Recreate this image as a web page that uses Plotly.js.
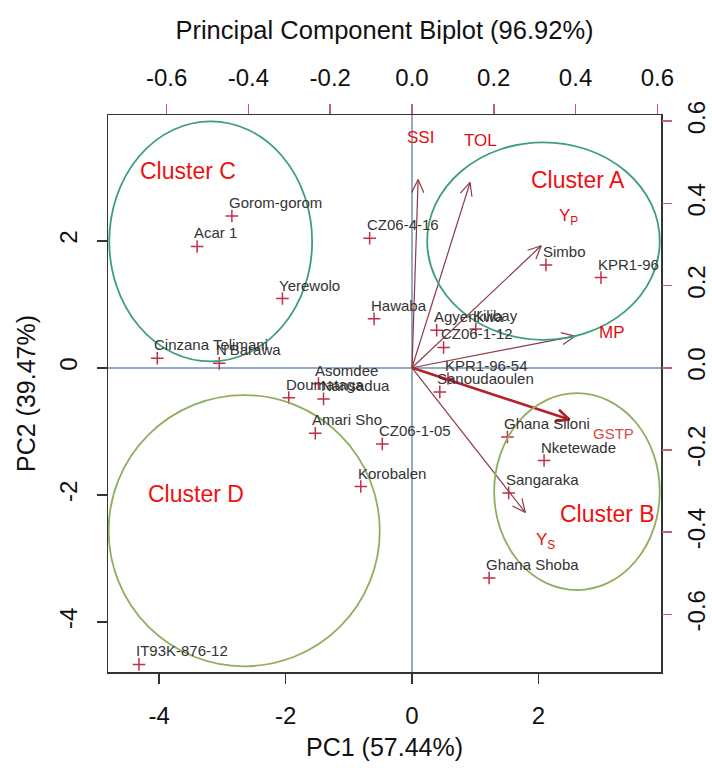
<!DOCTYPE html>
<html><head><meta charset="utf-8">
<script src="https://cdn.plot.ly/plotly-3.0.1.min.js"></script>
<style>html,body{margin:0;padding:0;background:#fff}</style>
</head><body><div id="chart" style="width:712px;height:768px"></div>
<script>
// Genotype scores (PC1, PC2)
const genotypes = ['Gorom-gorom','Acar 1','Yerewolo','CZ06-4-16','Hawaba','Cinzana Telimani',"N'Barawa",
  'Doumataga','Asomdee','Nansadua','Amari Sho','CZ06-1-05','Korobalen','IT93K-876-12',
  'Simbo','KPR1-96','Agyenkwa','Kilibay','CZ06-1-12','KPR1-96-54','Sanoudaoulen',
  'Ghana Siloni','Nketewade','Sangaraka','Ghana Shoba'];
const pc1 = [-2.85,-3.40,-2.05,-0.67,-0.60,-4.03,-3.05,
  -1.95,-1.48,-1.40,-1.53,-0.47,-0.81,-4.32,
  2.12,2.99,0.39,1.01,0.50,0.57,0.44,
  1.51,2.09,1.53,1.22];
const pc2 = [2.39,1.91,1.09,2.04,0.77,0.15,0.07,
  -0.47,-0.25,-0.49,-1.03,-1.20,-1.87,-4.67,
  1.62,1.42,0.59,0.61,0.32,-0.17,-0.38,
  -1.09,-1.46,-1.97,-3.31];

// Trait loadings (secondary axes)
const variables = ['SSI','TOL','Y<sub>P</sub>','MP','GSTP','Y<sub>S</sub>'];
const loadX = [0.015,0.142,0.316,0.398,0.385,0.277];
const loadY = [0.458,0.451,0.297,0.077,-0.126,-0.352];
const varLabelX = [0.022,0.168,0.383,0.490,0.493,0.327];
const varLabelY = [0.561,0.554,0.366,0.085,-0.159,-0.422];

// Cluster ellipses (PC1/PC2 extents) and labels
const clusters = ['Cluster A','Cluster B','Cluster C','Cluster D'];
const clusterX0 = [0.24,1.30,-4.79,-4.80];
const clusterX1 = [3.92,3.92,-1.58,-0.51];
const clusterY0 = [0.44,-3.50,0.10,-4.70];
const clusterY1 = [3.55,-0.40,3.88,-0.43];
const clusterLabelX = [2.62,3.10,-3.54,-3.41];
const clusterLabelY = [2.96,-2.30,3.10,-1.98];
const clusterColors = ['#3d9e7a','#8fae5e','#3d9e7a','#8fae5e'];

const xTicks = [-4,-2,0,2];
const yTicks = [-4,-2,0,2];
const secTicks = [-0.6,-0.4,-0.2,0.0,0.2,0.4,0.6];

const xRange = [-4.81,3.94];
const yRange = [-4.79,3.98];
const k = 6.47;

const SANS = '"Liberation Sans", Arial, sans-serif';

const traces = [];
traces.push({
  type:'scatter', mode:'markers', x:pc1, y:pc2, xaxis:'x', yaxis:'y',
  marker:{symbol:'cross-thin-open', size:9, color:'#c0304a', line:{color:'#c0304a', width:1.5}},
  hoverinfo:'text', text:genotypes, showlegend:false
});
const headLen = 0.035, headAng = 25*Math.PI/180;
variables.forEach((v,i)=>{
  const lx = loadX[i], ly = loadY[i];
  const a = Math.atan2(ly, lx);
  const h1x = lx - headLen*Math.cos(a-headAng), h1y = ly - headLen*Math.sin(a-headAng);
  const h2x = lx - headLen*Math.cos(a+headAng), h2y = ly - headLen*Math.sin(a+headAng);
  const isG = v === 'GSTP';
  traces.push({
    type:'scatter', mode:'lines', xaxis:'x2', yaxis:'y2',
    x:[0,lx,null,h1x,lx,h2x], y:[0,ly,null,h1y,ly,h2y],
    line:{color: isG ? '#b8202a' : '#8b3a46', width: isG ? 2.6 : 1.2},
    hoverinfo:'skip', showlegend:false
  });
});

const annotations = [];
genotypes.forEach((g,i)=>{
  annotations.push({xref:'x', yref:'y', x:pc1[i], y:pc2[i], text:g, showarrow:false,
    xanchor:'left', yanchor:'bottom', xshift:-5, yshift:3,
    font:{family:SANS, size:15, color:'#333'}});
});
variables.forEach((v,i)=>{
  annotations.push({xref:'x2', yref:'y2', x:varLabelX[i], y:varLabelY[i], text:v, showarrow:false,
    xanchor:'center', yanchor:'middle',
    font:{family:SANS, size: v==='GSTP'?15:17, color: v==='GSTP' ? '#d84848' : '#e01010'}});
});
clusters.forEach((c,i)=>{
  annotations.push({xref:'x', yref:'y', x:clusterLabelX[i], y:clusterLabelY[i], text:c, showarrow:false,
    xanchor:'center', yanchor:'middle', font:{family:SANS, size:23, color:'#ee1111'}});
});

const shapes = clusters.map((c,i)=>({
  type:'circle', xref:'x', yref:'y', x0:clusterX0[i], x1:clusterX1[i], y0:clusterY0[i], y1:clusterY1[i],
  line:{color:clusterColors[i], width:1.8}, fillcolor:'rgba(0,0,0,0)', layer:'above'
}));

const tickFont = {family:SANS, size:24, color:'#111'};
const titleFont = {family:SANS, size:25, color:'#111'};
const layout = {
  width:712, height:768,
  margin:{l:108, r:51, t:115, b:96},
  paper_bgcolor:'#fff', plot_bgcolor:'#fff',
  showlegend:false,
  title:{text:'Principal Component Biplot (96.92%)', font:{family:SANS, size:25.5, color:'#111'},
    x:0.5, xref:'paper', xanchor:'center', y:1-30/768, yref:'container', yanchor:'middle'},
  xaxis:{range:xRange, tickvals:xTicks, ticktext:xTicks.map(String), ticks:'outside', ticklen:10, tickwidth:1.5,
    tickcolor:'#333', showline:true, mirror:true, linecolor:'#333', linewidth:1.5,
    zeroline:true, zerolinecolor:'#93acc9', zerolinewidth:1.5, showgrid:false,
    tickfont:tickFont, ticklabelstandoff:12, automargin:false,
    title:{text:'PC1 (57.44%)', font:titleFont, standoff:10}},
  yaxis:{range:yRange, tickvals:yTicks, ticktext:yTicks.map(String), ticks:'outside', ticklen:10, tickwidth:1.5,
    tickcolor:'#333', showline:true, mirror:true, linecolor:'#333', linewidth:1.5,
    zeroline:true, zerolinecolor:'#93acc9', zerolinewidth:1.5, showgrid:false,
    tickfont:tickFont, tickangle:-90, ticklabelstandoff:10, automargin:false,
    title:{text:'PC2 (39.47%)', font:titleFont, standoff:12}},
  xaxis2:{overlaying:'x', side:'top', anchor:'y', range:[xRange[0]/k, xRange[1]/k],
    tickvals:secTicks, ticktext:secTicks.map(v=>v.toFixed(1)), ticks:'outside', ticklen:10, tickwidth:1.5,
    tickcolor:'#c06070', showline:false, zeroline:false, showgrid:false, tickfont:tickFont,
    ticklabelstandoff:8, automargin:false},
  yaxis2:{overlaying:'y', side:'right', anchor:'x', range:[yRange[0]/k, yRange[1]/k],
    tickvals:secTicks, ticktext:secTicks.map(v=>v.toFixed(1)), ticks:'outside', ticklen:10, tickwidth:1.5,
    tickcolor:'#c06070', showline:false, zeroline:false, showgrid:false, tickfont:tickFont, tickangle:-90,
    ticklabelstandoff:4, automargin:false},
  shapes:shapes,
  annotations:annotations
};
Plotly.newPlot('chart', traces, layout, {displayModeBar:false, staticPlot:true});
</script>
</body></html>
